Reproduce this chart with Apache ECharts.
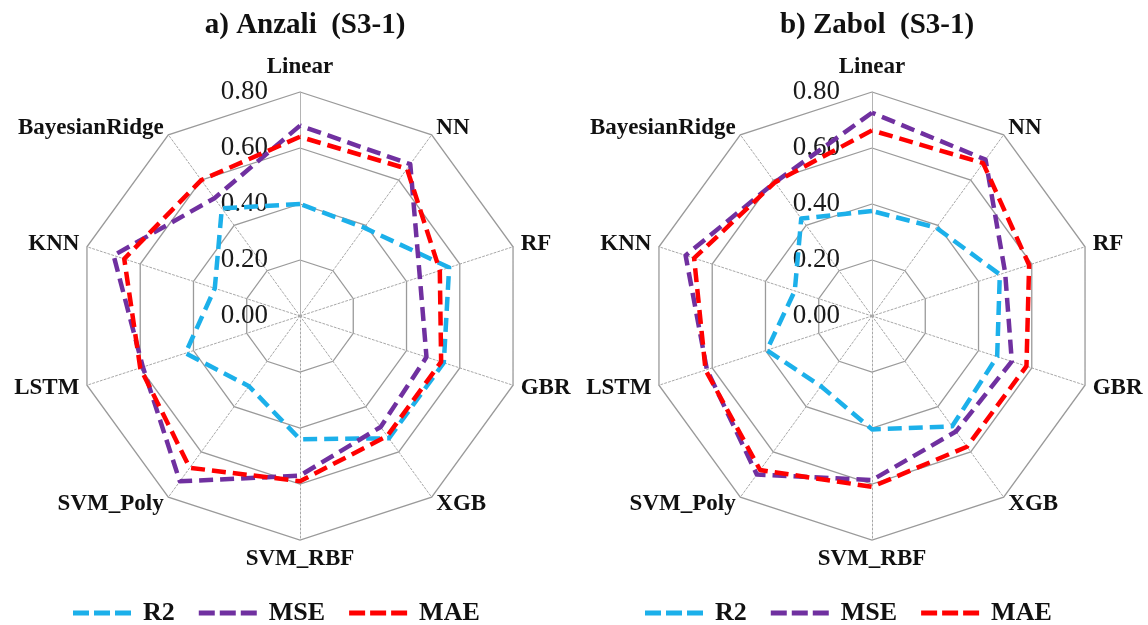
<!DOCTYPE html>
<html>
<head>
<meta charset="utf-8">
<title>Anzali / Zabol radar</title>
<script src="https://cdn.jsdelivr.net/npm/echarts@6/dist/echarts.min.js"></script>
<style>
  html, body { margin: 0; padding: 0; background: #fff; }
  #chart { width: 1148px; height: 625px; }
</style>
</head>
<body>
<div id="chart"></div>
<script>
// models listed clockwise starting at the top
const models = ['Linear', 'NN', 'RF', 'GBR', 'XGB', 'SVM_RBF', 'SVM_Poly', 'LSTM', 'KNN', 'BayesianRidge']
const metrics = ['R2', 'MSE', 'MAE']
const titles = ['a) Anzali  (S3-1)', 'b) Zabol  (S3-1)']
const axisMax = 0.8

const anzaliR2 = [0.40, 0.39, 0.56, 0.54, 0.54, 0.44, 0.31, 0.43, 0.32, 0.475]
const anzaliMSE = [0.68, 0.67, 0.45, 0.475, 0.49, 0.57, 0.73, 0.59, 0.70, 0.52]
const anzaliMAE = [0.64, 0.65, 0.525, 0.53, 0.53, 0.59, 0.67, 0.60, 0.66, 0.60]

const zabolR2 = [0.375, 0.39, 0.48, 0.47, 0.487, 0.405, 0.31, 0.395, 0.29, 0.43]
const zabolMSE = [0.726, 0.69, 0.50, 0.525, 0.51, 0.586, 0.70, 0.62, 0.70, 0.59]
const zabolMAE = [0.663, 0.675, 0.59, 0.58, 0.577, 0.61, 0.68, 0.625, 0.668, 0.59]

const colors = { R2: '#1cb0ea', MSE: '#7030a0', MAE: '#ff0000' }
const font = '"Liberation Serif", "Times New Roman", serif'

// echarts lays indicators out counter-clockwise, so walk the list backwards
const order = models.map((_, i) => (models.length - i) % models.length)
const reorder = (arr) => order.map((i) => arr[i])

const centers = [[300, 316], [872, 316]]
const legendLeft = [68, 640]

function buildRadar(center) {
  return {
    center,
    radius: 224,
    splitNumber: 4,
    shape: 'polygon',
    nameGap: 8,
    axisName: { color: '#111', fontFamily: font, fontWeight: 'bold', fontSize: 23 },
    splitArea: { show: false },
    splitLine: { lineStyle: { color: '#9a9a9a', width: 1.3 } },
    axisLine: { lineStyle: { color: '#a8a8a8', type: [2, 2], width: 1 } },
    axisTick: { show: false },
    axisLabel: { show: false },
    indicator: order.map((i) => {
      const ind = { name: models[i], min: 0, max: axisMax }
      if (i === 0) {
        ind.axisLabel = {
          show: true,
          margin: 32,
          color: '#1a1a1a',
          fontFamily: font,
          fontSize: 27,
          formatter: (v) => Number(v).toFixed(2),
        }
        ind.axisLine = { lineStyle: { color: '#b4b4b4', type: 'solid', width: 1 } }
      }
      return ind
    }),
  }
}

function buildSeries(radarIndex, r2, mse, mae) {
  const values = { R2: r2, MSE: mse, MAE: mae }
  return {
    type: 'radar',
    radarIndex,
    symbol: 'none',
    silent: true,
    data: metrics.map((m) => ({
      name: m,
      value: reorder(values[m]),
      itemStyle: { color: colors[m] },
      lineStyle: { color: colors[m], width: 4.5, type: [14, 7] },
    })),
  }
}

function buildLegend(left) {
  return {
    left,
    top: 595,
    itemWidth: 58,
    itemHeight: 5,
    itemGap: 24,
    icon: 'path://M0,0h16v5h-16zM21,0h16v5h-16zM42,0h16v5h-16z',
    itemStyle: { borderWidth: 0 },
    textStyle: { color: '#111', fontFamily: font, fontWeight: 'bold', fontSize: 26, padding: [0, 0, 0, 7] },
    data: metrics,
  }
}

const chart = echarts.init(document.getElementById('chart'))

chart.setOption({
  backgroundColor: '#fff',
  animation: false,
  title: titles.map((t, i) => ({
    text: t,
    left: centers[i][0],
    top: 6,
    textAlign: 'center',
    textStyle: { color: '#111', fontFamily: font, fontWeight: 'bold', fontSize: 29 },
  })),
  legend: legendLeft.map(buildLegend),
  radar: centers.map(buildRadar),
  series: [
    buildSeries(0, anzaliR2, anzaliMSE, anzaliMAE),
    buildSeries(1, zabolR2, zabolMSE, zabolMAE),
  ],
})
</script>
</body>
</html>
